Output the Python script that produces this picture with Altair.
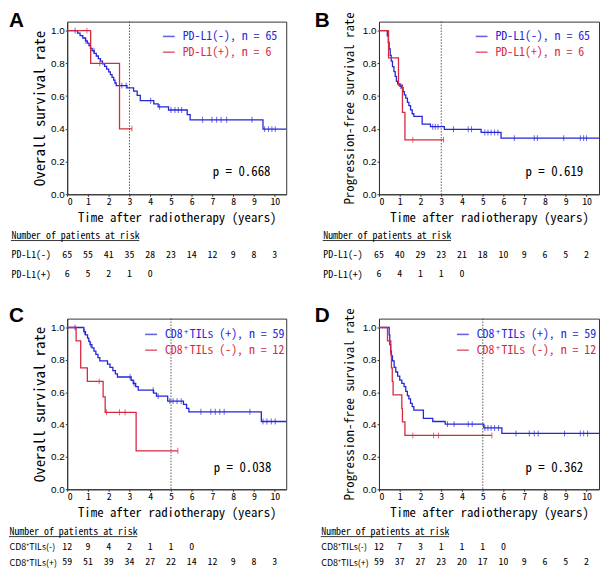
import altair as alt
import pandas as pd

MONO = "Noto Sans Mono CJK JP, Noto Sans CJK JP, DejaVu Sans Mono, monospace"
PROP = "Noto Sans CJK JP, Noto Sans, sans-serif"
SANS = "Liberation Sans, Arial, sans-serif"
BLUE = "#2525d9"
RED = "#d9283f"
HEADER = "Number of patients at risk"
XMAX_L = 10.55
XMAX_R = 10.6

# ---------------- Panel A : overall survival, PD-L1 ----------------
A_lab_b = "PD-L1(-), n = 65"
A_lab_r = "PD-L1(+), n = 6"
A_b_t = [0, 0.50, 0.62, 0.75, 0.88, 0.97, 1.05, 1.12, 1.20, 1.30, 1.40, 1.50, 1.60, 1.70, 1.80, 1.90,
         2.00, 2.08, 2.16, 2.24, 2.30, 2.36, 2.88, 3.20, 3.37, 3.52, 4.17, 4.38, 4.88, 5.78, 5.92, 9.43]
A_b_s = [1.0, 0.985, 0.970, 0.955, 0.938, 0.923, 0.908, 0.892, 0.877, 0.861, 0.845, 0.829, 0.813, 0.797, 0.781, 0.765,
         0.748, 0.731, 0.714, 0.697, 0.680, 0.664, 0.650, 0.630, 0.605, 0.572, 0.552, 0.534, 0.515, 0.487, 0.455, 0.398]
A_b_end = 10.7
A_b_cens = [0.38, 0.90, 1.29, 2.63, 2.84, 4.02, 4.45, 5.0, 5.19, 5.35, 5.51, 6.52, 6.97, 7.2, 7.41, 7.68, 8.9,
            9.51, 9.7, 9.86, 10.02]
A_r_t = [0, 1.13, 2.52]
A_r_s = [1.0, 0.8, 0.4]
A_r_end = 3.12
A_r_cens = [0.95, 1.57, 3.12]
A_rows = ["PD-L1(-)", "PD-L1(+)"]
A_risk_1 = [65, 55, 41, 35, 28, 23, 14, 12, 9, 8, 3]
A_risk_2 = [6, 5, 2, 1, 0]

# ---------------- Panel B : progression-free survival, PD-L1 ----------------
B_lab_b = "PD-L1(-), n = 65"
B_lab_r = "PD-L1(+), n = 6"
B_b_t = [0, 0.40, 0.45, 0.49, 0.54, 0.59, 0.65, 0.72, 0.78, 0.84, 0.90, 1.00, 1.10, 1.16, 1.22, 1.29,
         1.37, 1.44, 1.52, 1.60, 1.68, 2.08, 2.48, 3.15, 4.92, 5.88]
B_b_s = [1.0, 0.968, 0.929, 0.889, 0.849, 0.813, 0.780, 0.750, 0.720, 0.690, 0.675, 0.661, 0.651, 0.627, 0.607, 0.587,
         0.561, 0.542, 0.516, 0.492, 0.476, 0.429, 0.413, 0.397, 0.378, 0.343]
B_b_end = 10.7
B_b_cens = [1.05, 2.59, 2.71, 2.84, 3.59, 4.30, 4.46, 5.10, 5.25, 5.40, 5.57, 5.73, 6.52, 7.48, 7.63, 8.90,
            9.70, 9.86, 10.0]
B_r_t = [0, 0.46, 0.94, 1.13, 1.25]
B_r_s = [1.0, 0.833, 0.667, 0.5, 0.333]
B_r_end = 3.11
B_r_cens = [1.63, 3.11]
B_rows = ["PD-L1(-)", "PD-L1(+)"]
B_risk_1 = [65, 40, 29, 23, 21, 18, 10, 9, 6, 5, 2]
B_risk_2 = [6, 4, 1, 1, 0]

# ---------------- Panel C : overall survival, CD8+ TILs ----------------
C_lab_b = "CD8\u207aTILs (+), n = 59"
C_lab_r = "CD8\u207aTILs (-), n = 12"
C_b_t = [0, 0.80, 0.88, 0.98, 1.04, 1.10, 1.19, 1.29, 1.38, 1.48, 1.57, 1.94, 2.06, 2.20, 2.32, 2.42,
         3.08, 3.18, 3.30, 3.42, 4.16, 4.30, 4.84, 5.60, 5.75, 5.86, 9.35]
C_b_s = [1.0, 0.974, 0.954, 0.934, 0.914, 0.894, 0.874, 0.854, 0.834, 0.814, 0.794, 0.774, 0.754, 0.734, 0.714, 0.694,
         0.674, 0.654, 0.634, 0.613, 0.595, 0.576, 0.545, 0.525, 0.500, 0.479, 0.419]
C_b_end = 10.7
C_b_cens = [0.38, 0.84, 1.13, 3.03, 3.22, 4.14, 4.38, 4.94, 5.10, 5.29, 5.49, 6.44, 6.92, 7.13, 7.35, 7.56, 8.80,
            9.43, 9.62, 9.83, 10.02]
C_r_t = [0, 0.43, 0.65, 0.97, 1.73, 1.83, 3.32]
C_r_s = [1.0, 0.917, 0.75, 0.667, 0.571, 0.476, 0.238]
C_r_end = 5.33
C_r_cens = [1.54, 1.89, 2.52, 2.79, 5.33]
C_rows = ["CD8\u207aTILs(-)", "CD8\u207aTILs(+)"]
C_risk_1 = [12, 9, 4, 2, 1, 1, 0]
C_risk_2 = [59, 51, 39, 34, 27, 22, 14, 12, 9, 8, 3]

# ---------------- Panel D : progression-free survival, CD8+ TILs ----------------
D_lab_b = "CD8\u207aTILs (+), n = 59"
D_lab_r = "CD8\u207aTILs (-), n = 12"
D_b_t = [0, 0.49, 0.52, 0.56, 0.60, 0.65, 0.73, 0.81, 0.90, 1.00, 1.10, 1.21, 1.29, 1.37, 1.44, 1.52,
         1.60, 1.68, 2.14, 2.59, 3.19, 5.05, 5.92]
D_b_s = [1.0, 0.954, 0.894, 0.854, 0.824, 0.794, 0.754, 0.725, 0.699, 0.675, 0.655, 0.635, 0.605, 0.579, 0.559, 0.531,
         0.511, 0.489, 0.439, 0.419, 0.403, 0.379, 0.345]
D_b_end = 10.7
D_b_cens = [3.30, 3.62, 4.30, 4.49, 5.10, 5.25, 5.40, 5.57, 5.76, 6.60, 7.24, 7.48, 7.67, 8.94, 9.70, 9.86, 10.05]
D_r_t = [0, 0.41, 0.57, 0.60, 0.64, 0.68, 1.10, 1.13, 1.25]
D_r_s = [1.0, 0.917, 0.833, 0.75, 0.667, 0.583, 0.5, 0.417, 0.333]
D_r_end = 5.44
D_r_cens = [1.63, 2.63, 2.87, 5.44]
D_rows = ["CD8\u207aTILs(-)", "CD8\u207aTILs(+)"]
D_risk_1 = [12, 7, 3, 1, 1, 1, 0]
D_risk_2 = [59, 37, 27, 23, 20, 17, 10, 9, 6, 5, 2]

P_TEXT = {"A": "p = 0.668", "B": "p = 0.619", "C": "p = 0.038", "D": "p = 0.362"}
Y_TICKS = [0.0, 0.2, 0.4, 0.6, 0.8, 1.0]
X_TICKS = list(range(11))


def steps_df(label, ts, ss, end):
    rows = [{"t": t, "s": s, "grp": label} for t, s in zip(ts, ss)]
    rows.append({"t": end, "s": ss[-1], "grp": label})
    return rows


def cens_df(label, ts, ss, cens):
    rows = []
    for c in cens:
        val = ss[0]
        for t, s in zip(ts, ss):
            if t <= c:
                val = s
        rows.append({"t": c, "s": val, "grp": label})
    return rows


def km_panel(lab_b, lab_r, b, r, xmax, width, height, ytitle, ytsize, ytpad, ref_t, letter,
             letter_dx, letter_dy, leg_x, leg_y, p_x, p_y):
    steps = pd.DataFrame(steps_df(lab_b, *b[:2], b[2]) + steps_df(lab_r, *r[:2], r[2]))
    cens = pd.DataFrame(cens_df(lab_b, b[0], b[1], b[3]) + cens_df(lab_r, r[0], r[1], r[3]))
    xaxis = alt.Axis(values=X_TICKS, title="Time after radiotherapy (years)",
                     titleFont=MONO, titleFontSize=13, titleFontWeight="normal", titlePadding=6,
                     labelFont=MONO, labelFontSize=10, labelPadding=0, tickSize=2, grid=False,
                     labelOverlap=False)
    yaxis = alt.Axis(values=Y_TICKS, format=".1f", title=ytitle,
                     titleFont=MONO, titleFontSize=ytsize, titleFontWeight="normal",
                     titlePadding=ytpad, labelFont=SANS, labelFontSize=10, labelPadding=1,
                     tickSize=2, grid=False, labelOverlap=False)
    xenc = alt.X("t:Q", scale=alt.Scale(domain=[0, xmax], nice=False, zero=False), axis=xaxis)
    yenc = alt.Y("s:Q", scale=alt.Scale(domain=[0, 1.055], nice=False), axis=yaxis)
    cscale = alt.Scale(domain=[lab_b, lab_r], range=[BLUE, RED])
    legend = alt.Legend(orient="none", legendX=leg_x, legendY=leg_y, title=None, symbolType="stroke",
                        symbolSize=144, symbolStrokeWidth=1.6, labelFont=MONO, labelFontSize=12,
                        labelOffset=7, rowPadding=3, padding=0,
                        labelColor={"expr": "datum.value == '%s' ? '%s' : '%s'" % (lab_b, BLUE, RED)})
    cenc = alt.Color("grp:N", scale=cscale, legend=legend)
    lines = alt.Chart(steps).mark_line(interpolate="step-after", strokeWidth=1.3, clip=True).encode(
        x=xenc, y=yenc, color=cenc)
    ticks = alt.Chart(cens).mark_tick(orient="vertical", size=6, thickness=1, clip=True).encode(
        x=xenc, y=yenc, color=cenc)
    rule = alt.Chart(pd.DataFrame({"t": [ref_t]})).mark_rule(
        strokeDash=[1.5, 1.5], color="#444", strokeWidth=0.9).encode(x=xenc)
    ptxt = alt.Chart(pd.DataFrame({"p": [P_TEXT[letter]]})).mark_text(
        font=MONO, fontSize=13, align="right", baseline="middle", color="black").encode(
        text="p:N", x=alt.value(p_x), y=alt.value(p_y))
    ltr = alt.Chart(pd.DataFrame({"l": [letter]})).mark_text(
        font=SANS, fontSize=21, fontWeight="bold", align="left", baseline="top", color="black").encode(
        text="l:N", x=alt.value(letter_dx), y=alt.value(letter_dy))
    return alt.layer(lines, ticks, rule, ptxt, ltr).properties(
        width=width, height=height, view=alt.ViewBackground(stroke="#333", strokeWidth=1))


def risk_panel(rows, r1, r2, xmax, width, height, pad, align, lab_pad, ul_end, lab_font, lab_size):
    data = [{"row": rows[0], "t": i, "n": str(v)} for i, v in enumerate(r1)] + \
           [{"row": rows[1], "t": i, "n": str(v)} for i, v in enumerate(r2)]
    test = "datum.value == '%s'" % HEADER
    yscale = alt.Scale(type="point", domain=[HEADER] + rows, padding=pad, align=align)
    yaxis = alt.Axis(title=None, labelAlign="left", labelPadding=lab_pad, ticks=False, tickSize=0,
                     domain=False, labelColor="black", labelLimit=300, labelOverlap=False,
                     labelFont={"condition": {"test": test, "value": MONO}, "value": lab_font},
                     labelFontSize={"condition": {"test": test, "value": 10}, "value": lab_size})
    yenc = alt.Y("row:N", scale=yscale, axis=yaxis)
    txt = alt.Chart(pd.DataFrame(data)).mark_text(font=MONO, fontSize=10, baseline="middle",
                                                  color="black").encode(
        x=alt.X("t:Q", scale=alt.Scale(domain=[0, xmax], nice=False, zero=False), axis=None),
        y=yenc, text="n:N")
    ul = alt.Chart(pd.DataFrame({"row": [HEADER]})).mark_rule(color="black", strokeWidth=0.8, yOffset=5).encode(
        y=yenc, x=alt.value(-lab_pad), x2=alt.value(ul_end))
    return alt.layer(txt, ul).properties(
        width=width, height=height, view=alt.ViewBackground(strokeOpacity=0))


pA = km_panel(A_lab_b, A_lab_r, (A_b_t, A_b_s, A_b_end, A_b_cens), (A_r_t, A_r_s, A_r_end, A_r_cens),
              XMAX_L, 222, 175, "Overall survival rate", 15, 3.5, 3, "A", -59, -12, 96, 8, 206, 152)
pB = km_panel(B_lab_b, B_lab_r, (B_b_t, B_b_s, B_b_end, B_b_cens), (B_r_t, B_r_s, B_r_end, B_r_cens),
              XMAX_R, 223, 175, "Progression-free survival rate", 13, 5.5, 3, "B", -65, -12, 97, 8, 207, 152)
pC = km_panel(C_lab_b, C_lab_r, (C_b_t, C_b_s, C_b_end, C_b_cens), (C_r_t, C_r_s, C_r_end, C_r_cens),
              XMAX_L, 222, 173, "Overall survival rate", 15, 3.5, 5, "C", -59, -14, 78, 9, 207, 151)
pD = km_panel(D_lab_b, D_lab_r, (D_b_t, D_b_s, D_b_end, D_b_cens), (D_r_t, D_r_s, D_r_end, D_r_cens),
              XMAX_R, 223, 173, "Progression-free survival rate", 13, 5.5, 5, "D", -65, -14, 78, 9, 207, 151)

tA = risk_panel(A_rows, A_risk_1, A_risk_2, XMAX_L, 222, 78, 1.6, 0.4583, 57, 73, MONO, 10)
tB = risk_panel(B_rows, B_risk_1, B_risk_2, XMAX_R, 223, 78, 1.6, 0.4583, 57, 73, MONO, 10)
tC = risk_panel(C_rows, C_risk_1, C_risk_2, XMAX_L, 222, 55, 0.774, 0.79, 59, 71, PROP, 9)
tD = risk_panel(D_rows, D_risk_1, D_risk_2, XMAX_R, 223, 55, 0.774, 0.79, 59, 71, PROP, 9)

chart = alt.concat(pA, pB, tA, tB, pC, pD, tC, tD, columns=2, spacing={"row": 24, "column": 94},
                   bounds="flush").resolve_scale(
    x="independent", y="independent", color="independent").resolve_legend(color="independent").properties(
    padding={"top": -3, "left": 0, "right": 0, "bottom": 0}, background="white").configure_axis(
    domainColor="#333", tickColor="#333", labelColor="black", titleColor="black", labelOverlap=False)

chart.save("out.html", embed_options={"renderer": "svg", "actions": False})
